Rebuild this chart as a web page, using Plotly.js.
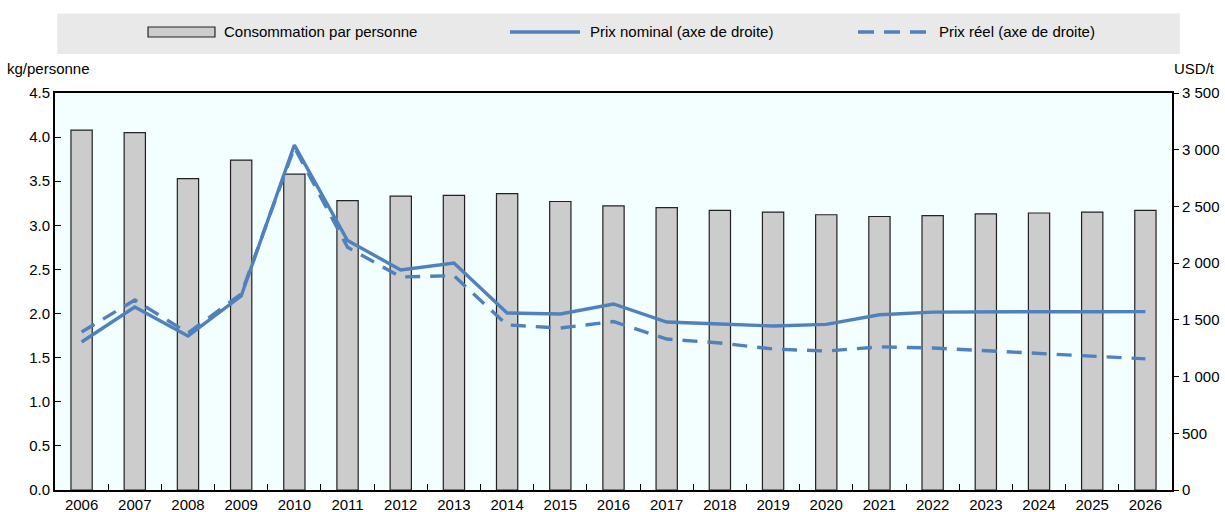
<!DOCTYPE html>
<html><head><meta charset="utf-8">
<script src="https://cdn.plot.ly/plotly-3.0.1.min.js"></script>
<style>body{margin:0;background:#fff}#c{width:1225px;height:512px}</style>
</head><body><div id="c"></div>
<script>
const years = ["2006","2007","2008","2009","2010","2011","2012","2013","2014","2015","2016","2017","2018","2019","2020","2021","2022","2023","2024","2025","2026"];
const consumption = [4.08,4.05,3.53,3.74,3.58,3.28,3.33,3.34,3.36,3.27,3.22,3.20,3.17,3.15,3.12,3.10,3.11,3.13,3.14,3.15,3.17];
const nominalPrice = [1305,1613,1358,1710,3041,2200,1940,2001,1560,1552,1640,1481,1463,1446,1460,1545,1568,1572,1572,1572,1573];
const realPrice = [1393,1675,1384,1728,3020,2140,1878,1890,1455,1428,1485,1331,1296,1243,1225,1262,1252,1228,1208,1181,1156];
const seriesNames = ["Consommation par personne","Prix nominal (axe de droite)","Prix réel (axe de droite)"];

const font = "Liberation Sans Narrow, Arial Narrow, Liberation Sans, Arial, sans-serif";
const blue = "#4F81BD";
const fs = 15;

const traces = [
  {type:"bar", x:years, y:consumption, name:seriesNames[0],
   marker:{color:"#CCCCCC", line:{color:"#222", width:1.2}}, width:0.4},
  {type:"scatter", mode:"lines", x:years, y:nominalPrice, yaxis:"y2", name:seriesNames[1],
   line:{color:blue, width:3.4}},
  {type:"scatter", mode:"lines", x:years, y:realPrice, yaxis:"y2", name:seriesNames[2],
   line:{color:blue, width:3.4, dash:"15px,10px"}}
];

// custom legend (paper coords)
const ly = 1.1537;
const layout = {
  width:1225, height:512,
  margin:{l:55, r:53, t:93, b:22},
  paper_bgcolor:"#fff", plot_bgcolor:"#F3FEFF",
  separators:". ",
  font:{family:font, size:fs, color:"#000"},
  showlegend:false,
  xaxis:{type:"category", showline:true, linecolor:"#000", linewidth:2, mirror:true,
         ticks:"inside", ticklen:6, tickcolor:"#000", tickson:"boundaries", showgrid:false,
         tickfont:{family:font, size:fs}},
  yaxis:{range:[0,4.5], dtick:0.5, tickformat:".1f", showline:true, linecolor:"#000", linewidth:2,
         ticks:"inside", ticklen:6, tickcolor:"#000", showgrid:false, zeroline:false,
         tickfont:{family:font, size:fs}},
  yaxis2:{range:[0,3500], dtick:500, tickformat:",.0f", overlaying:"y", side:"right",
          showline:true, linecolor:"#000", linewidth:2, ticks:"outside", ticklen:5, tickcolor:"#000",
          showgrid:false, zeroline:false, tickfont:{family:font, size:fs}},
  shapes:[
    {type:"rect", xref:"paper", yref:"paper", x0:0.002, x1:1.007, y0:1.098, y1:1.2,
     fillcolor:"#E9E9E9", line:{width:0}, layer:"below"},
    {type:"rect", xref:"paper", yref:"paper", x0:0.0833, x1:0.1432, y0:1.1411, y1:1.1662,
     fillcolor:"#CCCCCC", line:{color:"#222", width:1.2}},
    {type:"line", xref:"paper", yref:"paper", x0:0.4073, x1:0.4700, y0:ly, y1:ly,
     line:{color:blue, width:3.6}},
    {type:"line", xref:"paper", yref:"paper", x0:0.7189, x1:0.7833, y0:ly, y1:ly,
     line:{color:blue, width:3.6, dash:"16px,10px"}}
  ],
  annotations:[
    {text:seriesNames[0], xref:"paper", yref:"paper", x:0.1495, y:ly, xanchor:"left", yanchor:"middle",
     showarrow:false, font:{family:font, size:fs}},
    {text:seriesNames[1], xref:"paper", yref:"paper", x:0.4772, y:ly, xanchor:"left", yanchor:"middle",
     showarrow:false, font:{family:font, size:fs}},
    {text:seriesNames[2], xref:"paper", yref:"paper", x:0.7896, y:ly, xanchor:"left", yanchor:"middle",
     showarrow:false, font:{family:font, size:fs}},
    {text:"kg/personne", xref:"paper", yref:"paper", x:-0.045, y:1.035, xanchor:"left", yanchor:"bottom",
     showarrow:false, font:{family:font, size:fs}},
    {text:"USD/t", xref:"paper", yref:"paper", x:1.0, y:1.035, xanchor:"left", yanchor:"bottom", xshift:0,
     showarrow:false, font:{family:font, size:fs}}
  ]
};
Plotly.newPlot("c", traces, layout, {displayModeBar:false, staticPlot:true});
</script></body></html>
